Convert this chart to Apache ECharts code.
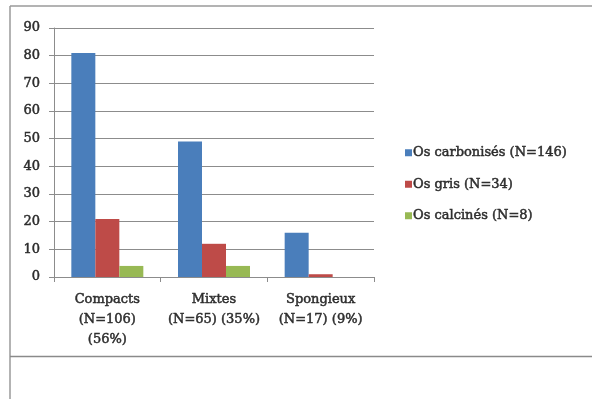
<!DOCTYPE html>
<html>
<head>
<meta charset="utf-8">
<script src="https://cdn.jsdelivr.net/npm/echarts@6/dist/echarts.min.js"></script>
<style>
  html, body { margin: 0; padding: 0; background: #ffffff; }
  #chart { width: 592px; height: 399px; }
</style>
</head>
<body>
<div id="chart"></div>
<script>
// Catégories d'os (abscisse)
const categories = ['Compacts\n(N=106)\n(56%)', 'Mixtes\n(N=65) (35%)', 'Spongieux\n(N=17) (9%)'];

// Effectifs par état de crémation
const carbonises = [81, 49, 16];
const gris = [21, 12, 1];
const calcines = [4, 4, 0];

const seriesNames = ['Os carbonisés (N=146)', 'Os gris (N=34)', 'Os calcinés (N=8)'];
const yTicks = { min: 0, max: 90, interval: 10 };

const fontFamily = '"DejaVu Serif", "Liberation Serif", serif';
const textColor = '#2e2e2e';
const lineColor = '#8c8c8c';

// léger contour pour épaissir le texte
const heavyText = { textBorderColor: textColor, textBorderWidth: 0.5 };

const chart = echarts.init(document.getElementById('chart'), null, { renderer: 'canvas' });

function barSeries(name, data, color) {
  return {
    name: name,
    type: 'bar',
    data: data,
    barWidth: 24,
    barGap: '0%',
    barCategoryGap: '33%',
    itemStyle: { color: color },
    emphasis: { disabled: true }
  };
}

chart.setOption({
  animation: false,
  backgroundColor: '#ffffff',
  textStyle: { fontFamily: fontFamily },
  grid: { left: 54, top: 28, right: 218, bottom: 122, containLabel: false },
  legend: {
    orient: 'vertical',
    left: 400,
    top: 141,
    itemWidth: 7,
    itemHeight: 7,
    itemGap: 18,
    icon: 'rect',
    selectedMode: false,
    textStyle: Object.assign({
      fontFamily: fontFamily,
      fontSize: 13,
      color: textColor,
      padding: [0, 0, 0, -4]
    }, heavyText),
    data: seriesNames
  },
  xAxis: {
    type: 'category',
    data: categories,
    axisLine: { show: true, lineStyle: { color: lineColor, width: 1 } },
    axisTick: { show: true, length: 5, lineStyle: { color: lineColor } },
    axisLabel: Object.assign({
      margin: 13,
      fontFamily: fontFamily,
      fontSize: 13,
      color: textColor,
      lineHeight: 20,
      interval: 0
    }, heavyText),
    splitLine: { show: false }
  },
  yAxis: {
    type: 'value',
    min: yTicks.min,
    max: yTicks.max,
    interval: yTicks.interval,
    axisLine: { show: true, lineStyle: { color: lineColor, width: 1 } },
    axisTick: { show: true, length: 5, lineStyle: { color: lineColor } },
    axisLabel: Object.assign({
      margin: 14,
      fontFamily: fontFamily,
      fontSize: 13,
      color: textColor
    }, heavyText),
    splitLine: { show: true, lineStyle: { color: lineColor, width: 1 } }
  },
  series: [
    barSeries(seriesNames[0], carbonises, '#4a7ebb'),
    barSeries(seriesNames[1], gris, '#be4b48'),
    barSeries(seriesNames[2], calcines, '#98b954')
  ],
  graphic: [
    // cadre du tableau
    { type: 'line', silent: true, shape: { x1: 10, y1: 6, x2: 592, y2: 6 }, style: { stroke: '#9a9a9a', lineWidth: 1.5 } },
    { type: 'line', silent: true, shape: { x1: 10, y1: 6, x2: 10, y2: 399 }, style: { stroke: '#9a9a9a', lineWidth: 1.5 } },
    { type: 'line', silent: true, shape: { x1: 10, y1: 356.5, x2: 592, y2: 356.5 }, style: { stroke: '#8a8a8a', lineWidth: 1.5 } }
  ]
});
</script>
</body>
</html>
